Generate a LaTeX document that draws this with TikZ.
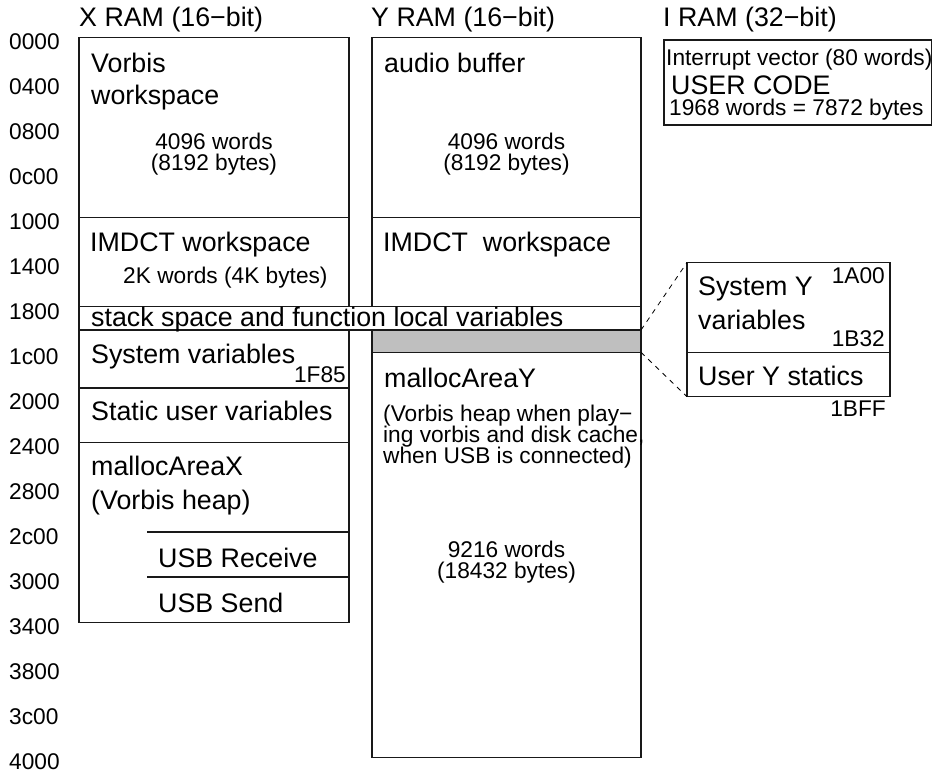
\documentclass[tikz,border=0pt]{standalone}
\usepackage{fontspec}
\setmainfont{Liberation Sans}
\newcommand\bigtxt{\fontsize{26.8}{32}\selectfont}
\newcommand\smalltxt{\fontsize{22.7}{26}\selectfont}
\begin{document}
\begin{tikzpicture}[x=1pt,y=-1pt,
  boxline/.style={draw=black!90,line width=1.1pt},
  bl/.style={anchor=base west,inner sep=0pt,font=\bigtxt},
  sl/.style={anchor=base west,inner sep=0pt,font=\smalltxt},
  sc/.style={anchor=base,inner sep=0pt,font=\smalltxt},
  sr/.style={anchor=base east,inner sep=0pt,font=\smalltxt},
  zoomline/.style={draw=black,line width=0.8pt,dash pattern=on 5pt off 5pt}]
\useasboundingbox (0,0) rectangle (933,774);
% address labels
\foreach \t [count=\k from 0] in {0000,0400,0800,0c00,1000,1400,1800,1c00,2000,2400,2800,2c00,3000,3400,3800,3c00,4000}
  \node[sl] (addr\k) at (9,{49.5+45*\k}) {\t};
% headers
\node[bl] (hx) at (79,26) {X RAM (16−bit)};
\node[bl] (hy) at (371,26) {Y RAM (16−bit)};
\node[bl] (hi) at (663,26) {I RAM (32−bit)};
% X RAM box
\draw[boxline] (79,37.3) rectangle (349,622.3);
\draw[boxline] (79,217.3) -- (349,217.3);
\draw[boxline] (79,388) -- (349,388);
\draw[boxline] (79,442.3) -- (349,442.3);
\draw[boxline] (147,532) -- (349,532);
\draw[boxline] (147,577) -- (349,577);
% Y RAM box
\draw[boxline] (372,37.3) rectangle (641,757.3);
\draw[boxline] (372,217.3) -- (641,217.3);
\draw[boxline,fill=black!25] (372,330) rectangle (641,352.3);
% stack band
\draw[boxline,fill=white] (79,306.5) rectangle (641,330);
\coordinate (bandR) at (641,330);
\coordinate (greyR) at (641,352.3);
% inset
\draw[boxline] (687,262.5) rectangle (890,396.7);
\draw[boxline] (687,352.3) -- (890,352.3);
\coordinate (insTL) at (687,262.5);
\coordinate (insBL) at (687,396.7);
\draw[zoomline] (bandR) -- (insTL);
\draw[zoomline] (greyR) -- (insBL);
% I RAM box
\draw[boxline] (664,40) rectangle (931.4,125);
% X RAM texts
\node[bl] (xv1) at (91,72) {Vorbis};
\node[bl] (xv2) at (91,104) {workspace};
\node[sc] (xw1) at (214,149) {4096 words};
\node[sc] (xw2) at (214,170) {(8192 bytes)};
\node[bl] (xim) at (90,251) {IMDCT workspace};
\node[sl] (xik) at (123,283) {2K words (4K bytes)};
\node[bl] (stk) at (91,326.5) {stack space and function local variables};
\node[bl] (xsys) at (91,363) {System variables};
\node[sr] (x1f) at (346,382) {1F85};
\node[bl] (xst) at (91,420) {Static user variables};
\node[bl] (xm1) at (91,475) {mallocAreaX};
\node[bl] (xm2) at (91,509) {(Vorbis heap)};
\node[bl] (xur) at (158,567) {USB Receive};
\node[bl] (xus) at (158,612) {USB Send};
% Y RAM texts
\node[bl] (yab) at (384,72) {audio buffer};
\node[sc] (yw1) at (506.5,149) {4096 words};
\node[sc] (yw2) at (506.5,170) {(8192 bytes)};
\node[bl] (yim) at (383,251) {IMDCT\ \ workspace};
\node[bl] (ym) at (384,387) {mallocAreaY};
\node[sl] (yh1) at (383,421) {(Vorbis heap when play−};
\node[sl] (yh2) at (383,442) {ing vorbis and disk cache,};
\node[sl] (yh3) at (383,463) {when USB is connected)};
\node[sc] (yw3) at (506.5,557) {9216 words};
\node[sc] (yw4) at (506.5,578) {(18432 bytes)};
% inset texts
\node[bl] (is1) at (698,295.5) {System Y};
\node[bl] (is2) at (698,329) {variables};
\node[sr] (i1a) at (885,283.5) {1A00};
\node[sr] (i1b) at (885,346) {1B32};
\node[bl] (ius) at (698,385) {User Y statics};
\node[sr] (i1f) at (886,416.5) {1BFF};
% I RAM texts
\node[sl] (iiv) at (666,65) {Interrupt vector (80 words)};
\node[bl] (iuc) at (671,94) {USER CODE};
\node[sl] (iw) at (669,115) {1968 words = 7872 bytes};
\end{tikzpicture}
\end{document}
